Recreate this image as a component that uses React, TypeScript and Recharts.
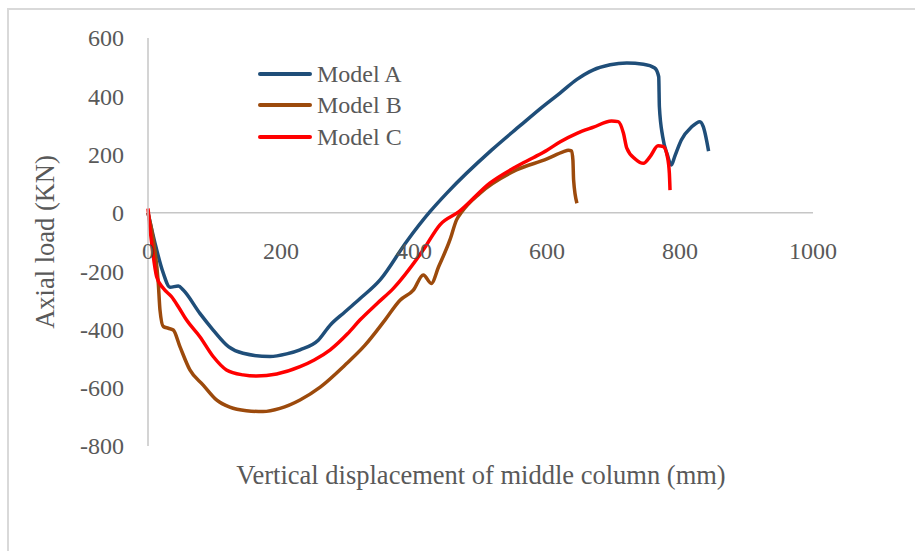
import React from 'react';
import { LineChart, Line, XAxis, YAxis, ReferenceLine, Legend, Label } from 'recharts';

const xTicks = [0, 200, 400, 600, 800, 1000];
const yTicks = [-800, -600, -400, -200, 0, 200, 400, 600];

// [displacement mm, axial load kN]
const modelA: [number, number][] = [
  [0, 0], [10.5, -104], [23, -207], [33, -255], [45.6, -251], [53, -265], [78, -345], [98, -402],
  [121, -459], [143, -482], [183.5, -493], [208.5, -484], [228.6, -470], [256, -437], [274, -385],
  [296, -340], [319, -294], [349, -230], [389, -98], [424, 4], [449, 67], [517, 216], [560, 300],
  [590, 358], [620, 412], [645, 458], [669, 490], [695, 508], [720, 514], [745, 510], [762, 497],
  [768, 467], [769, 364], [774, 261], [781, 199], [787, 164], [792, 193], [802, 250], [817, 294],
  [830, 313], [835, 296], [843, 212],
];

const modelB: [number, number][] = [
  [0, 0], [8, -93], [15.5, -242], [18, -333], [23, -390], [30.5, -396], [38, -402], [48, -459],
  [63, -539], [83, -591], [103, -642], [123, -667], [148, -679], [173, -682], [198.5, -671],
  [228.6, -642], [259, -598], [296, -523], [326, -455], [356, -369], [379, -300], [399, -265],
  [414, -213], [426, -242], [437, -185], [454, -93], [464, -24], [472, 4], [499, 67], [554, 147],
  [600, 185], [625, 210], [632, 215], [637, 213], [639, 180], [640, 113], [645, 33],
];

const modelC: [number, number][] = [
  [0, 15], [5.5, -103], [13, -219], [23, -259], [35.5, -288], [45.6, -322], [58, -368], [78, -425],
  [98, -493], [118, -539], [143, -556], [163, -560], [193.5, -553], [228.6, -528], [250, -505],
  [274, -470], [300, -415], [319, -367], [345, -310], [369, -259], [414, -127], [439, -41],
  [467.7, 4], [514, 102], [554, 159], [580, 190], [600, 215], [620, 244], [645, 273], [670, 294],
  [697, 315], [707, 313], [715, 273], [720, 222], [733, 184], [745, 170], [755, 193], [767, 230],
  [775, 227], [781, 193], [784, 136], [785, 78],
];

const toPoints = (arr: [number, number][]) => arr.map(([x, y]) => ({ x, y }));

const SERIES = [
  { name: 'Model A', color: '#1F4E79', data: toPoints(modelA) },
  { name: 'Model B', color: '#9C4A0C', data: toPoints(modelB) },
  { name: 'Model C', color: '#FF0000', data: toPoints(modelC) },
];

const FONT = '"Liberation Serif", "Times New Roman", serif';
const TEXT = '#595959';

const XTick = ({ x, payload }: any) => (
  <text x={x} y={251} dy="0.35em" textAnchor="middle" fontSize={24} fontFamily={FONT} fill={TEXT}>
    {payload.value}
  </text>
);

const YTick = ({ y, payload }: any) => (
  <text x={124} y={y} dy="0.35em" textAnchor="end" fontSize={24} fontFamily={FONT} fill={TEXT}>
    {payload.value}
  </text>
);

const LegendBox = () => (
  <div style={{ fontFamily: FONT, color: TEXT, fontSize: 24 }}>
    {SERIES.map(s => (
      <div key={s.name} style={{ display: 'flex', alignItems: 'center', height: 31.5 }}>
        <div style={{ width: 54, height: 4, background: s.color, borderRadius: 2, marginRight: 5 }} />
        <span style={{ lineHeight: '24px' }}>{s.name}</span>
      </div>
    ))}
  </div>
);

const App: React.FC = () => {
  return (
    <div style={{ position: 'absolute', left: 0, top: 0, width: 915, height: 551, overflow: 'hidden', background: '#fff' }}>
      <div style={{ position: 'absolute', left: 7, top: 8, width: 960, height: 600, border: '2px solid #d9d9d9' }} />
      <div style={{ position: 'absolute', left: 0, top: 0 }}>
        <LineChart width={915} height={551} margin={{ top: 38, right: 102, bottom: 75, left: 20 }}>
          <XAxis
            type="number"
            dataKey="x"
            domain={[0, 1000]}
            ticks={xTicks}
            interval={0}
            height={30}
            axisLine={false}
            tickLine={false}
            tick={<XTick />}
          >
            <Label
              content={() => (
                <text x={481} y={475} dy="0.35em" textAnchor="middle" fontSize={26.5} fontFamily={FONT} fill={TEXT}>
                  Vertical displacement of middle column (mm)
                </text>
              )}
            />
          </XAxis>
          <YAxis
            type="number"
            dataKey="y"
            domain={[-800, 600]}
            ticks={yTicks}
            interval={0}
            width={128}
            axisLine={{ stroke: '#c6c6c6', strokeWidth: 1.5 }}
            tickLine={false}
            tick={<YTick />}
          >
            <Label
              content={() => (
                <text x={45} y={242} dy="0.35em" transform="rotate(-90 45 242)" textAnchor="middle" fontSize={26.5} fontFamily={FONT} fill={TEXT}>
                  Axial load (KN)
                </text>
              )}
            />
          </YAxis>
          <ReferenceLine y={0} stroke="#c6c6c6" strokeWidth={1.5} />
          <Legend
            layout="horizontal"
            align="center"
            verticalAlign="middle"
            content={<LegendBox />}
            wrapperStyle={{ left: 258, top: 58, width: 200 }}
          />
          {SERIES.map(s => (
            <Line
              key={s.name}
              name={s.name}
              data={s.data}
              dataKey="y"
              type="monotone"
              stroke={s.color}
              strokeWidth={3.5}
              dot={false}
              activeDot={false}
              isAnimationActive={false}
            />
          ))}
        </LineChart>
      </div>
    </div>
  );
};

export default App;
